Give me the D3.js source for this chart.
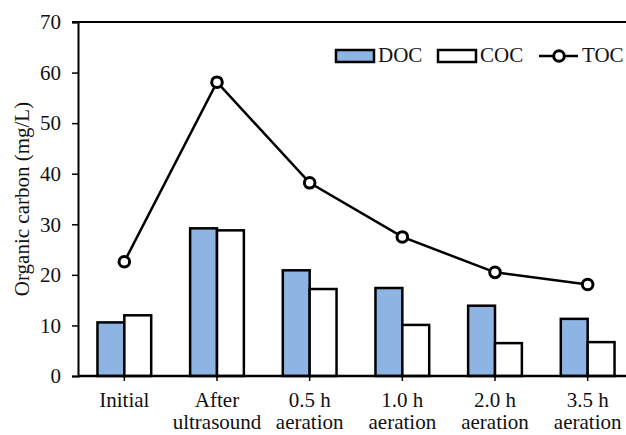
<!DOCTYPE html>
<html>
<head>
<meta charset="utf-8">
<script src="https://cdn.jsdelivr.net/npm/d3@7"></script>
<style>
  html, body { margin: 0; padding: 0; background: #fff; }
  svg text { font-family: "Liberation Serif", "Times New Roman", serif !important; }
</style>
</head>
<body>
<div id="chart"></div>
<script>
// categories, two text lines each
const categories = ["Initial", "After ultrasound", "0.5 h aeration", "1.0 h aeration", "2.0 h aeration", "3.5 h aeration"];
const catLines = [["Initial"], ["After", "ultrasound"], ["0.5 h", "aeration"], ["1.0 h", "aeration"], ["2.0 h", "aeration"], ["3.5 h", "aeration"]];
const docValues = [10.6, 29.2, 20.9, 17.4, 13.9, 11.3];
const cocValues = [12.0, 28.8, 17.2, 10.1, 6.5, 6.7];
const tocValues = [22.6, 58.1, 38.2, 27.5, 20.5, 18.1];
const yTicks = [0, 10, 20, 30, 40, 50, 60, 70];

(function() {
  const fullW = 626, fullH = 435;
  const margin = { top: 22, left: 78 };
  const W = 556, H = 354;

  const svg = d3.select("#chart").append("svg")
    .attr("width", fullW).attr("height", fullH)
    .style("display", "block");

  const g = svg.append("g").attr("transform", `translate(${margin.left},${margin.top})`);

  const x0 = d3.scaleBand().domain(categories).range([0, W]).paddingInner(0.42).paddingOuter(0.21);
  const x1 = d3.scaleBand().domain(["DOC", "COC"]).range([0, x0.bandwidth()]);
  const y = d3.scaleLinear().domain([0, 70]).range([H, 0]);

  const rows = categories.map((c, i) => ({ cat: c, DOC: docValues[i], COC: cocValues[i], TOC: tocValues[i] }));
  const fills = { DOC: "#8db4e2", COC: "#ffffff" };

  // top border
  g.append("line").attr("x1", -6).attr("x2", W).attr("y1", 0).attr("y2", 0)
    .attr("stroke", "#000").attr("stroke-width", 2);

  // bars
  const grp = g.selectAll(".grp").data(rows).join("g")
    .attr("transform", d => `translate(${x0(d.cat)},0)`);
  grp.selectAll("rect").data(d => ["DOC", "COC"].map(k => ({ k, v: d[k] }))).join("rect")
    .attr("x", d => x1(d.k))
    .attr("y", d => y(d.v))
    .attr("width", x1.bandwidth())
    .attr("height", d => H - y(d.v))
    .attr("fill", d => fills[d.k])
    .attr("stroke", "#000").attr("stroke-width", 2.5);

  // y axis
  const yAxis = g.append("g").call(d3.axisLeft(y).tickValues(yTicks).tickSize(6).tickPadding(11));
  yAxis.select(".domain").attr("stroke-width", 2);
  yAxis.selectAll(".tick line").attr("stroke-width", 1.5);
  yAxis.selectAll("text").style("font-size", "21px").attr("fill", "#111");

  // x axis
  const xAxis = g.append("g").attr("transform", `translate(0,${H})`)
    .call(d3.axisBottom(x0).tickSize(5).tickFormat(""));
  xAxis.select(".domain").attr("stroke-width", 2.5).attr("d", `M0,0H${W}`);
  xAxis.selectAll(".tick line").attr("stroke-width", 1.5);
  xAxis.selectAll(".tick").each(function(d, i) {
    const t = d3.select(this).append("text")
      .attr("text-anchor", "middle")
      .attr("fill", "#111")
      .style("font-size", "21px");
    catLines[i].forEach((s, j) => {
      t.append("tspan").attr("x", 0).attr("y", 31 + j * 22).text(s);
    });
  });

  // TOC line
  const cx = d => x0(d.cat) + x0.bandwidth() / 2;
  g.append("path").datum(rows)
    .attr("fill", "none").attr("stroke", "#000").attr("stroke-width", 2.5)
    .attr("d", d3.line().x(cx).y(d => y(d.TOC)));
  g.selectAll(".toc").data(rows).join("circle")
    .attr("cx", cx).attr("cy", d => y(d.TOC)).attr("r", 5.3)
    .attr("fill", "#fff").attr("stroke", "#000").attr("stroke-width", 3);

  // y title
  svg.append("text")
    .attr("transform", `translate(29,${margin.top + H / 2}) rotate(-90)`)
    .attr("text-anchor", "middle")
    .attr("fill", "#111")
    .style("font-size", "21px")
    .text("Organic carbon (mg/L)");

  // legend
  const lg = svg.append("g").style("font-size", "21px").attr("fill", "#111");
  lg.append("rect").attr("x", 336).attr("y", 50).attr("width", 38).attr("height", 12)
    .attr("fill", fills.DOC).attr("stroke", "#000").attr("stroke-width", 2.5);
  lg.append("text").attr("x", 378).attr("y", 62).text("DOC");
  lg.append("rect").attr("x", 438).attr("y", 50).attr("width", 38).attr("height", 12)
    .attr("fill", fills.COC).attr("stroke", "#000").attr("stroke-width", 2.5);
  lg.append("text").attr("x", 480).attr("y", 62).text("COC");
  lg.append("line").attr("x1", 539).attr("x2", 578).attr("y1", 56).attr("y2", 56)
    .attr("stroke", "#000").attr("stroke-width", 2.5);
  lg.append("circle").attr("cx", 559).attr("cy", 56).attr("r", 5.3)
    .attr("fill", "#fff").attr("stroke", "#000").attr("stroke-width", 3);
  lg.append("text").attr("x", 582).attr("y", 62).text("TOC");
})();
</script>
</body>
</html>
